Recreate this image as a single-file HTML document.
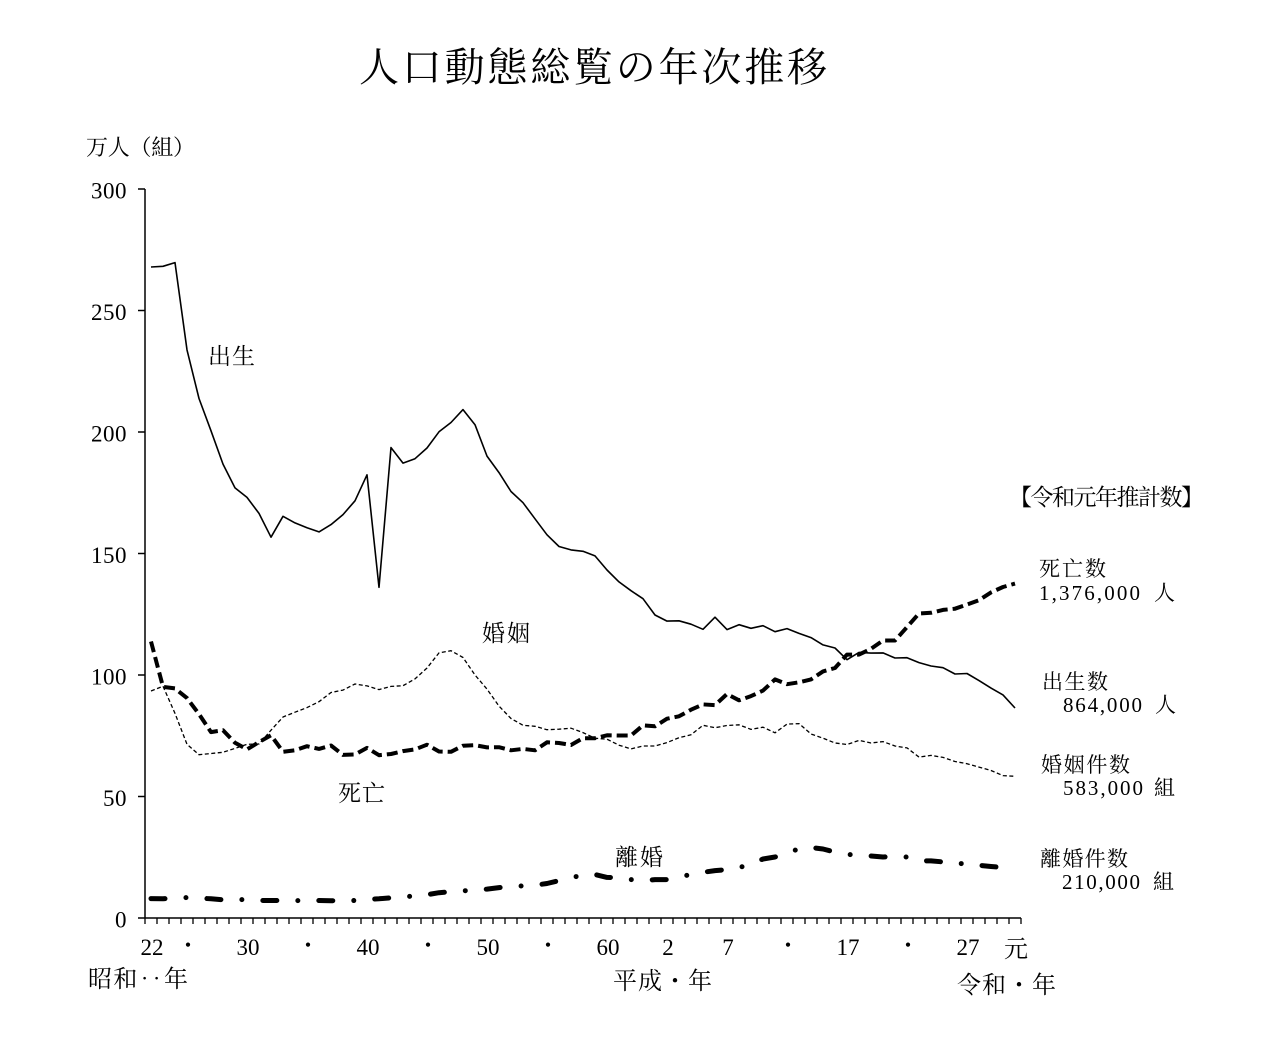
<!DOCTYPE html>
<html>
<head>
<meta charset="utf-8">
<style>
  html,body{margin:0;padding:0;background:#fff;}
  svg{display:block;}
  .t{font-family:"Liberation Serif","Noto Serif CJK SC","Noto Serif CJK JP",serif;fill:#000;}
</style>
</head>
<body>
<svg width="1266" height="1062" viewBox="0 0 1266 1062" xmlns="http://www.w3.org/2000/svg">
  <rect x="0" y="0" width="1266" height="1062" fill="#fff"/>

  <!-- Title -->
  <text class="t" x="359" y="81" font-size="40" textLength="468" lengthAdjust="spacing">人口動態総覧の年次推移</text>

  <!-- Unit label -->
  <text class="t" x="86" y="155" font-size="22" textLength="109" lengthAdjust="spacing">万人（組）</text>

  <!-- Y axis -->
  <g stroke="#000" stroke-width="1.5" fill="none">
    <line x1="145" y1="189" x2="145" y2="918"/>
    <line x1="138" y1="189" x2="145" y2="189"/>
    <line x1="138" y1="310.5" x2="145" y2="310.5"/>
    <line x1="138" y1="432" x2="145" y2="432"/>
    <line x1="138" y1="553.5" x2="145" y2="553.5"/>
    <line x1="138" y1="675" x2="145" y2="675"/>
    <line x1="138" y1="796.5" x2="145" y2="796.5"/>
    <line x1="138" y1="918" x2="1021" y2="918"/>
  </g>
  <!-- X ticks -->
  <path stroke="#000" stroke-width="1.3" fill="none" d="M145 918v6M157 918v6M169 918v6M181 918v6M193 918v6M205 918v6M217 918v6M229 918v6M241 918v6M253 918v6M265 918v6M277 918v6M289 918v6M301 918v6M313 918v6M325 918v6M337 918v6M349 918v6M361 918v6M373 918v6M385 918v6M397 918v6M409 918v6M421 918v6M433 918v6M445 918v6M457 918v6M469 918v6M481 918v6M493 918v6M505 918v6M517 918v6M529 918v6M541 918v6M553 918v6M565 918v6M577 918v6M589 918v6M601 918v6M613 918v6M625 918v6M637 918v6M649 918v6M661 918v6M673 918v6M685 918v6M697 918v6M709 918v6M721 918v6M733 918v6M745 918v6M757 918v6M769 918v6M781 918v6M793 918v6M805 918v6M817 918v6M829 918v6M841 918v6M853 918v6M865 918v6M877 918v6M889 918v6M901 918v6M913 918v6M925 918v6M937 918v6M949 918v6M961 918v6M973 918v6M985 918v6M997 918v6M1009 918v6M1021 918v6"/>

  <!-- Y tick labels -->
  <g class="t" font-size="23" text-anchor="end" letter-spacing="0.5">
    <text x="127" y="198.5">300</text>
    <text x="127" y="320">250</text>
    <text x="127" y="441.5">200</text>
    <text x="127" y="563">150</text>
    <text x="127" y="684.5">100</text>
    <text x="127" y="806">50</text>
    <text x="127" y="927.5">0</text>
  </g>

  <!-- X tick labels -->
  <g class="t" font-size="23" text-anchor="middle">
    <text x="152" y="955">22</text>
    <text x="188" y="953">・</text>
    <text x="248" y="955">30</text>
    <text x="308" y="953">・</text>
    <text x="368" y="955">40</text>
    <text x="428" y="953">・</text>
    <text x="488" y="955">50</text>
    <text x="548" y="953">・</text>
    <text x="608" y="955">60</text>
    <text x="668" y="955">2</text>
    <text x="728" y="955">7</text>
    <text x="788" y="953">・</text>
    <text x="848" y="955">17</text>
    <text x="908" y="953">・</text>
    <text x="968" y="955">27</text>
    <text x="1016" y="957" font-size="24">元</text>
  </g>
  <text class="t" x="88" y="987" font-size="24" textLength="100" lengthAdjust="spacing">昭和‥年</text>
  <text class="t" x="613" y="989" font-size="24" textLength="99" lengthAdjust="spacing">平成・年</text>
  <text class="t" x="957" y="993" font-size="24" textLength="99" lengthAdjust="spacing">令和・年</text>

  <!-- Series -->
  <!-- Births -->
  <polyline fill="none" stroke="#000" stroke-width="1.6" stroke-linejoin="round"
    points="151,267.0 163,266.3 175,262.6 187,349.9 199,398.5 211,430.8 223,464.1 235,487.9 247,497.4 259,513.4 271,537.2 283,516.3 295,522.9 307,527.7 319,531.9 331,524.6 343,514.6 355,500.8 367,474.8 379,587.3 391,447.6 403,463.1 415,458.7 427,448.0 439,431.8 451,422.5 463,409.6 475,424.7 487,456.1 499,472.6 511,491.5 523,502.7 535,518.8 547,534.8 559,546.5 571,549.9 583,551.3 595,555.9 607,570.0 619,581.9 631,590.7 643,598.7 655,615.0 667,621.1 679,620.8 691,624.2 703,629.3 715,617.2 727,629.6 739,624.7 751,628.3 763,625.7 775,631.7 787,628.6 799,633.4 811,637.6 823,644.9 835,648.0 847,659.7 859,652.4 871,653.1 883,652.9 895,658.0 907,657.7 919,662.6 931,666.0 943,667.7 955,674.0 967,673.5 979,680.6 991,688.1 1003,694.9 1015,708.0"/>

  <!-- Deaths -->
  <polyline fill="none" stroke="#000" stroke-width="4" stroke-dasharray="11 5" stroke-linejoin="round"
    points="151,641.5 163,686.9 175,688.4 187,698.1 199,714.1 211,732.1 223,730.2 235,742.8 247,749.4 259,742.1 271,735.3 283,751.8 295,750.3 307,746.2 319,748.9 331,745.5 343,754.9 355,754.5 367,747.9 379,755.2 391,754.0 403,751.1 415,749.4 427,744.7 439,751.5 451,751.8 463,745.7 475,745.2 487,747.4 499,747.2 511,750.3 523,748.9 535,750.3 547,742.3 559,743.0 571,745.0 583,738.2 595,738.2 607,735.3 619,735.5 631,735.5 643,725.3 655,726.3 667,718.7 679,716.3 691,709.7 703,704.4 715,705.1 727,694.0 739,700.3 751,696.1 763,690.6 775,679.4 787,684.2 799,682.3 811,679.4 823,671.4 835,668.0 847,654.6 859,654.6 871,648.8 883,640.5 895,640.5 907,627.1 919,613.5 931,612.8 943,609.9 955,608.7 967,604.5 979,600.2 991,592.4 1003,587.0 1015,583.6"/>

  <!-- Marriages -->
  <polyline fill="none" stroke="#000" stroke-width="1.3" stroke-dasharray="4 2.5" stroke-linejoin="round"
    points="151,691.0 163,686.2 175,713.4 187,744.3 199,754.7 211,753.5 223,752.3 235,748.4 247,744.3 259,744.0 271,730.2 283,717.0 295,712.2 307,707.6 319,701.7 331,692.5 343,690.1 355,684.0 367,685.9 379,689.6 391,686.4 403,685.7 415,678.9 427,668.0 439,652.9 451,650.7 463,657.5 475,675.0 487,689.1 499,706.1 511,718.5 523,725.3 535,726.3 547,729.7 559,729.2 571,728.2 583,732.6 595,738.2 607,739.2 619,745.2 631,748.9 643,746.0 655,746.0 667,742.6 679,737.7 691,734.8 703,725.3 715,727.7 727,725.5 739,724.8 751,729.4 763,727.2 775,732.8 787,724.1 799,723.6 811,734.0 823,738.2 835,743.0 847,744.5 859,740.4 871,743.0 883,741.6 895,746.0 907,747.9 919,757.1 931,755.4 943,757.4 955,761.5 967,763.7 979,767.1 991,770.5 1003,775.6 1015,776.3"/>

  <!-- Divorces -->
  <polyline fill="none" stroke="#000" stroke-width="5" stroke-dasharray="14 21 0 21" stroke-linecap="round" stroke-linejoin="round"
    points="151,898.6 163,898.8 175,897.8 187,897.6 199,898.1 211,898.8 223,899.8 235,899.3 247,899.8 259,900.5 271,900.5 283,900.5 295,900.5 307,901.2 319,900.5 331,900.7 343,901.0 355,900.5 367,899.3 379,898.8 391,897.8 403,896.9 415,895.9 427,894.7 439,892.7 451,891.8 463,890.8 475,890.3 487,889.1 499,887.6 511,886.7 523,885.9 535,885.2 547,883.5 559,880.6 571,878.1 583,874.5 595,874.5 607,877.4 619,877.7 631,879.6 643,880.6 655,879.6 667,879.6 679,876.9 691,874.5 703,872.3 715,870.6 727,869.6 739,867.7 751,863.8 763,859.0 775,857.0 787,853.8 799,848.5 811,847.5 823,849.0 835,852.1 847,854.3 859,855.5 871,856.0 883,857.0 895,856.5 907,857.0 919,860.7 931,860.9 943,861.9 955,864.1 967,863.1 979,865.3 991,866.5 1003,867.5 1015,867.0"/>

  <!-- Series labels -->
  <g class="t" font-size="23">
    <text x="208" y="364" textLength="47" lengthAdjust="spacing">出生</text>
    <text x="482" y="641" textLength="48" lengthAdjust="spacing">婚姻</text>
    <text x="338" y="801" textLength="47" lengthAdjust="spacing">死亡</text>
    <text x="615" y="865" textLength="48" lengthAdjust="spacing">離婚</text>
  </g>

  <!-- Right annotations -->
  <g class="t" font-size="21">
    <text x="1009" y="505" font-size="23" textLength="195" lengthAdjust="spacing">【令和元年推計数】</text>

    <text x="1039" y="576" textLength="67" lengthAdjust="spacing">死亡数</text>
    <text x="1039" y="600" textLength="101" lengthAdjust="spacing">1,376,000</text>
    <text x="1154" y="600">人</text>

    <text x="1042" y="689" textLength="66" lengthAdjust="spacing">出生数</text>
    <text x="1063" y="712" textLength="79" lengthAdjust="spacing">864,000</text>
    <text x="1155" y="712">人</text>

    <text x="1041" y="772" textLength="89" lengthAdjust="spacing">婚姻件数</text>
    <text x="1063" y="795" textLength="80" lengthAdjust="spacing">583,000</text>
    <text x="1154" y="795">組</text>

    <text x="1040" y="866" textLength="88" lengthAdjust="spacing">離婚件数</text>
    <text x="1062" y="889" textLength="78" lengthAdjust="spacing">210,000</text>
    <text x="1153" y="889">組</text>
  </g>
</svg>
</body>
</html>
